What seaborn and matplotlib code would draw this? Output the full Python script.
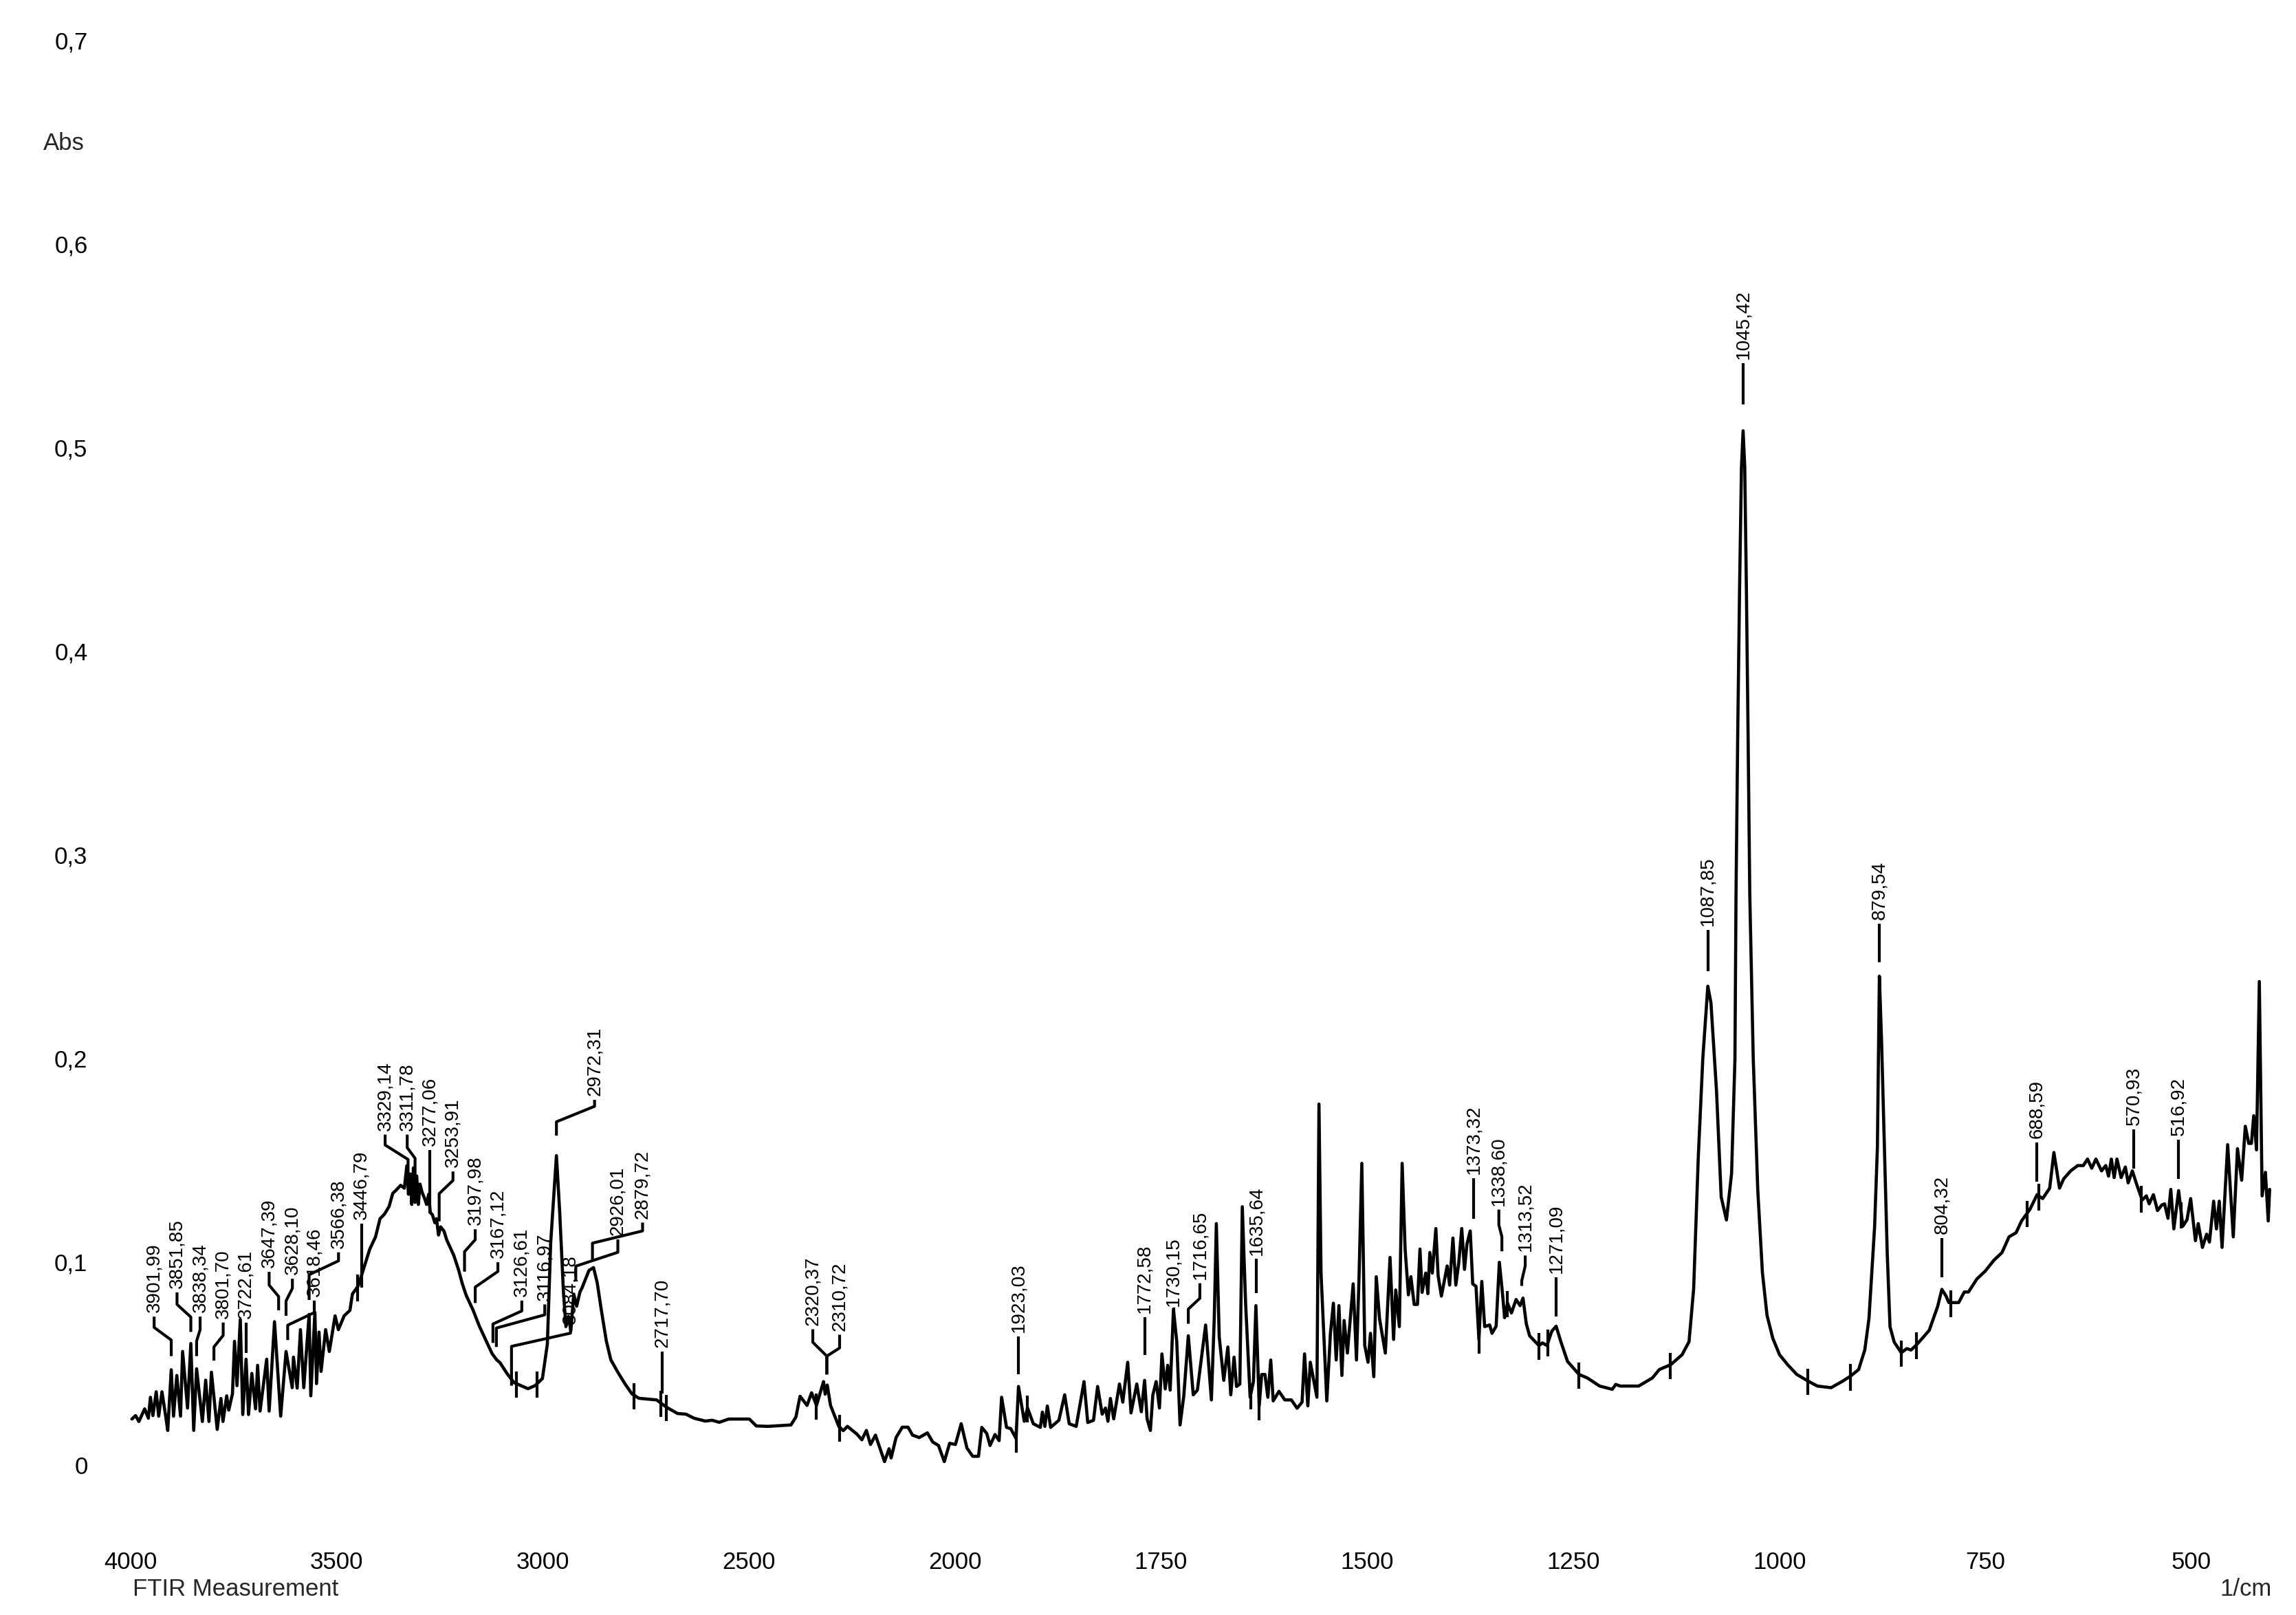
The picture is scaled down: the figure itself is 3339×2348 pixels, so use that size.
import numpy as np
import pandas as pd
import seaborn as sns
import matplotlib
matplotlib.use("Agg")
import matplotlib.pyplot as plt

# spectrum (1/cm, Abs)
wavenumber = [
    3997, 3988, 3980, 3966, 3957, 3952, 3946, 3938, 3932, 3924, 3915, 3910,
    3901.5, 3896, 3888, 3879, 3874, 3862, 3854, 3847, 3840, 3826, 3818, 3810,
    3804, 3790, 3781, 3776, 3767, 3762, 3753, 3748, 3742, 3734, 3728, 3720,
    3714, 3706, 3697, 3692, 3686, 3670, 3664, 3651, 3636, 3623, 3608, 3605,
    3596, 3588, 3580, 3567, 3563, 3553, 3549, 3543, 3538, 3527, 3518, 3504,
    3496, 3482, 3468, 3462, 3448, 3437, 3420, 3406, 3395, 3384, 3373, 3364,
    3356, 3345, 3336, 3330, 3326, 3322, 3318, 3314, 3310, 3306, 3302, 3298,
    3293, 3287, 3282, 3277, 3273, 3268, 3262, 3258, 3253, 3248, 3240, 3233,
    3216, 3204, 3196, 3186, 3169, 3154, 3137, 3123, 3112, 3104, 3087, 3070,
    3053, 3036, 3019, 3001, 2989, 2981, 2967, 2959, 2950, 2944, 2938, 2932,
    2925, 2918, 2910, 2905, 2888, 2877, 2868, 2858, 2846, 2835, 2818, 2801,
    2784, 2767, 2724, 2700, 2673, 2653, 2633, 2606, 2589, 2572, 2549, 2499,
    2482, 2454, 2398, 2386, 2376, 2359, 2348, 2336, 2319, 2315, 2310, 2302,
    2282, 2271, 2261, 2238, 2226, 2215, 2205, 2193, 2171, 2160, 2155, 2143,
    2128, 2114, 2103, 2087, 2067, 2054, 2040, 2026, 2013, 1999.5, 1992.5, 1985.5,
    1978.5, 1971.5, 1967.5, 1961.5, 1957.5, 1951.5, 1946.5, 1943.5, 1937.5, 1932.5,
    1926, 1923, 1916, 1912, 1905, 1896.5, 1894, 1891, 1888, 1884, 1874, 1867,
    1861.5, 1853, 1843.5, 1839, 1832, 1827, 1821.5, 1817.5, 1814.5, 1811.5, 1807.5,
    1800.5, 1796.5, 1790.5, 1786.5, 1779.5, 1774, 1770, 1767, 1763, 1760, 1756,
    1752, 1749, 1745, 1742, 1739, 1735, 1731, 1727, 1722.5, 1717, 1711, 1706,
    1696, 1689, 1685.5, 1683, 1679.5, 1674, 1669, 1665.5, 1661.5, 1658.5, 1654.5,
    1651.5, 1647.5, 1642, 1638, 1635, 1631, 1628, 1624, 1620.5, 1617, 1614,
    1607, 1600, 1592, 1585, 1579, 1576, 1572, 1569, 1561, 1558.5, 1556, 1549,
    1544.6, 1541, 1537.6, 1534.3, 1530.7, 1528, 1524, 1517, 1513, 1510, 1506.5,
    1503, 1499, 1496, 1492, 1489, 1485, 1478, 1472.3, 1468, 1465.4, 1461, 1457.6,
    1454, 1450, 1447, 1443, 1439, 1436, 1433.4, 1429, 1426.4, 1424, 1421, 1416.7,
    1414, 1410, 1403, 1400, 1396, 1392.5, 1389, 1385.3, 1382, 1379, 1375, 1372,
    1368, 1364.5, 1361, 1357.5, 1351.4, 1348.6, 1343.6, 1339.7, 1336, 1333.3,
    1329.7, 1325, 1319.4, 1314.5, 1311, 1307, 1303, 1296, 1291.6, 1287.4, 1282,
    1276, 1270.8, 1265, 1257, 1243, 1233, 1218, 1202.7, 1198.5, 1193, 1170.7,
    1154, 1145.7, 1131.8, 1118, 1109.6, 1104, 1098.4, 1092.9, 1086.8, 1083,
    1076.2, 1070.6, 1064.2, 1058, 1053.9, 1052.6, 1050.5, 1048.3, 1046, 1044,
    1042, 1040, 1038, 1035.9, 1031.7, 1026.2, 1020.6, 1015, 1008, 999.8, 990,
    978.9, 965, 953.9, 937.2, 923.3, 913.6, 903.9, 896.4, 891.3, 884.5, 881.1,
    878.7, 876, 872.6, 869.2, 865.8, 860.7, 852.2, 845.4, 840.3, 833.5, 825,
    818.2, 813.1, 808, 802.9, 797.8, 794.4, 789.3, 782.5, 775.7, 770.6, 760.4,
    750.2, 740, 729.9, 721.4, 712.9, 706.1, 695.9, 687.4, 680.6, 672.1, 667,
    660.2, 655.1, 646.6, 638.1, 631.3, 626.2, 621.1, 616, 609.2, 604.1, 600.7,
    597.3, 593.9, 590.5, 585.4, 580.3, 576.9, 571.8, 566.7, 559.9, 554.8, 551.4,
    546.3, 541.3, 536.2, 532.7, 528.6, 525.2, 521.5, 515.7, 510.6, 505.5, 501.1,
    495.3, 491.9, 486.8, 481.7, 478.3, 473.2, 469.8, 466.4, 463, 456.2, 449.4,
    444.3, 439.2, 434.8, 430.7, 427.4, 424.6, 421.2, 417.8, 414.4, 410.4, 407,
    405.3,
]
absorbance = [
    0.0226, 0.0243, 0.0214, 0.0276, 0.0230, 0.0333, 0.0243, 0.0360, 0.0240, 0.0360, 0.0240, 0.0170,
    0.0468, 0.0240, 0.0440, 0.0240, 0.0558, 0.0280, 0.0597, 0.0170, 0.0473, 0.0214, 0.0417, 0.0214,
    0.0456, 0.0175, 0.0327, 0.0214, 0.0340, 0.0270, 0.0350, 0.0608, 0.0390, 0.0715, 0.0248, 0.0520,
    0.0248, 0.0450, 0.0276, 0.0490, 0.0265, 0.0520, 0.0265, 0.0704, 0.0240, 0.0558, 0.0380, 0.0530,
    0.0378, 0.0665, 0.0380, 0.0740, 0.0340, 0.0750, 0.0400, 0.0653, 0.0460, 0.0665, 0.0558, 0.0733,
    0.0665, 0.0733, 0.0760, 0.0840, 0.0880, 0.0950, 0.1060, 0.1120, 0.1210, 0.1233, 0.1270, 0.1335,
    0.1350, 0.1374, 0.1360, 0.1470, 0.1330, 0.1430, 0.1280, 0.1460, 0.1290, 0.1420, 0.1280, 0.1380,
    0.1340, 0.1310, 0.1280, 0.1330, 0.1240, 0.1230, 0.1190, 0.1210, 0.1130, 0.1170, 0.1150, 0.1105,
    0.1030, 0.0956, 0.0895, 0.0834, 0.0760, 0.0682, 0.0608, 0.0547, 0.0517, 0.0503, 0.0450, 0.0405,
    0.0390, 0.0375, 0.0390, 0.0425, 0.0595, 0.1090, 0.1520, 0.1240, 0.0850, 0.0680, 0.0730, 0.0660,
    0.0840, 0.0780, 0.0850, 0.0870, 0.0956, 0.0970, 0.0895, 0.0760, 0.0610, 0.0517, 0.0456, 0.0400,
    0.0350, 0.0328, 0.0320, 0.0284, 0.0253, 0.0250, 0.0230, 0.0216, 0.0220, 0.0210, 0.0226, 0.0226,
    0.0192, 0.0190, 0.0197, 0.0236, 0.0338, 0.0293, 0.0355, 0.0293, 0.0410, 0.0348, 0.0393, 0.0293,
    0.0190, 0.0169, 0.0190, 0.0152, 0.0124, 0.0170, 0.0101, 0.0147, 0.0017, 0.0080, 0.0035, 0.0135,
    0.0186, 0.0186, 0.0147, 0.0135, 0.0158, 0.0113, 0.0096, 0.0017, 0.0107, 0.0101, 0.0203, 0.0083,
    0.0043, 0.0043, 0.0185, 0.0155, 0.0096, 0.0150, 0.0120, 0.0333, 0.0185, 0.0179,
    0.0131, 0.0386, 0.0215, 0.0280, 0.0203, 0.0185, 0.0260, 0.0190, 0.0290, 0.0185, 0.0220, 0.0345,
    0.0203, 0.0190, 0.0410, 0.0209, 0.0220, 0.0386, 0.0250, 0.0280, 0.0215, 0.0327, 0.0227,
    0.0398, 0.0309, 0.0505, 0.0256, 0.0398, 0.0262, 0.0416, 0.0227, 0.0170, 0.0345, 0.0410,
    0.0280, 0.0546, 0.0374, 0.0490, 0.0368, 0.0765, 0.0606, 0.0197, 0.0339, 0.0635, 0.0345, 0.0368,
    0.0688, 0.0320, 0.0724, 0.1186, 0.0630, 0.0416, 0.0580, 0.0345, 0.0530, 0.0386, 0.0398,
    0.1269, 0.0795, 0.0333, 0.0410, 0.0783, 0.0291, 0.0445, 0.0445, 0.0333, 0.0516, 0.0315,
    0.0362, 0.0320, 0.0320, 0.0279, 0.0309, 0.0546, 0.0291, 0.0505, 0.0333, 0.1773, 0.0943, 0.0315,
    0.0647, 0.0795, 0.0516, 0.0783, 0.0440, 0.0710, 0.0550, 0.0890, 0.0516, 0.0908, 0.1482,
    0.0588, 0.0505, 0.0647, 0.0434, 0.0925, 0.0718, 0.0550, 0.1020, 0.0617, 0.0860, 0.0680, 0.1482,
    0.1061, 0.0836, 0.0925, 0.0789, 0.0789, 0.1061, 0.0848, 0.0943, 0.0842, 0.1044, 0.0943, 0.1162,
    0.0931, 0.0830, 0.0978, 0.0884, 0.1115, 0.0884, 0.0990, 0.1162, 0.0961, 0.1085, 0.1150, 0.0890,
    0.0878, 0.0617, 0.0902, 0.0680, 0.0688, 0.0647, 0.0682, 0.0996, 0.0848, 0.0724,
    0.0795, 0.0747, 0.0813, 0.0783, 0.0820, 0.0694, 0.0635, 0.0605, 0.0587, 0.0600, 0.0587,
    0.0658, 0.0682, 0.0605, 0.0509, 0.0445, 0.0428, 0.0388, 0.0372, 0.0396, 0.0388, 0.0388,
    0.0428, 0.0469, 0.0493, 0.0542, 0.0606, 0.0865, 0.1510, 0.1996, 0.2352, 0.2270,
    0.1834, 0.1317, 0.1204, 0.1431, 0.1996, 0.2800, 0.3600, 0.4300, 0.4900, 0.5080,
    0.4900, 0.4300, 0.3600, 0.2800, 0.1996, 0.1350, 0.0946, 0.0736, 0.0623, 0.0542, 0.0493,
    0.0445, 0.0412, 0.0388, 0.0380, 0.0412, 0.0437, 0.0469, 0.0565, 0.0720, 0.1170, 0.1560,
    0.2401, 0.2078, 0.1560, 0.1044, 0.0680, 0.0604, 0.0552, 0.0572, 0.0565, 0.0591, 0.0630,
    0.0662, 0.0720, 0.0779, 0.0863, 0.0830, 0.0798, 0.0798, 0.0798, 0.0850, 0.0850, 0.0914,
    0.0953, 0.1005, 0.1044, 0.1121, 0.1141, 0.1200, 0.1257, 0.1328, 0.1309, 0.1360, 0.1535,
    0.1360, 0.1406, 0.1445, 0.1471, 0.1471, 0.1503, 0.1458, 0.1503, 0.1445, 0.1471, 0.1419,
    0.1503, 0.1412, 0.1503, 0.1412, 0.1464, 0.1386, 0.1445, 0.1380, 0.1302, 0.1322, 0.1283,
    0.1328, 0.1250, 0.1277, 0.1283, 0.1212, 0.1354, 0.1160, 0.1348, 0.1173, 0.1205, 0.1309,
    0.1102, 0.1186, 0.1069, 0.1134, 0.1095, 0.1296, 0.1160, 0.1296, 0.1069, 0.1574, 0.1121,
    0.1554, 0.1399, 0.1664, 0.1580, 0.1580, 0.1716, 0.1548, 0.2375, 0.1322, 0.1438, 0.1199,
    0.1354,
]

# peak labels: text, peak position, text position, leader levels (None = straight leader)
peak_text = [
    "3901,99", "3851,85", "3838,34", "3801,70", "3722,61", "3647,39", "3628,10",
    "3618,46", "3566,38", "3446,79", "3329,14", "3311,78", "3277,06", "3253,91",
    "3197,98", "3167,12", "3126,61", "3116,97", "3084,18", "2972,31", "2926,01",
    "2879,72", "2717,70", "2320,37", "2310,72", "1923,03", "1772,58", "1730,15",
    "1716,65", "1635,64", "1373,32", "1338,60", "1313,52", "1271,09", "1087,85",
    "1045,42", "879,54", "804,32", "688,59", "570,93", "516,92",
]
peak_at = [
    3901.5, 3854, 3840, 3798, 3720, 3641, 3623, 3619, 3567, 3440, 3327, 3310, 3274,
    3251.5, 3190, 3164, 3121, 3112.7, 3076, 2967, 2920, 2879.6, 2710, 2311, 2311,
    1923, 1770, 1735, 1717, 1634.5, 1371, 1336.6, 1312.5, 1270.8, 1086.8, 1044,
    878.7, 802.9, 688, 570.1, 515.7,
]
text_at = [
    3943, 3887.5, 3831.5, 3775.5, 3720, 3664, 3607.6, 3554.5, 3495.7, 3440, 3382.6,
    3329, 3274, 3218, 3164, 3109, 3051, 2995.3, 2932.8, 2874.5, 2818, 2758, 2710,
    2345, 2280, 1923, 1770, 1735, 1703, 1634.5, 1371, 1340.3, 1308.3, 1270.8,
    1086.8, 1044, 878.7, 802.9, 688, 570.1, 515.7,
]
leader_low = [
    0.0535, 0.0654, 0.0535, 0.0513, 0.0552, 0.0760, 0.0733, 0.0614, 0.0811, 0.0870,
    0.1404, 0.1400, 0.1236, 0.1197, 0.0950, 0.0796, 0.0600, 0.0580, 0.0390, 0.1618,
    0.0902, 0.1010, 0.0352, 0.0445, 0.0445, 0.0445, 0.0540, 0.0775, 0.0694, 0.0843,
    0.1210, 0.1050, 0.0880, 0.0730, 0.2424, 0.5209, 0.2470, 0.0921, 0.1393, 0.1457,
    0.1406,
]
kink_low = [
    0.0614, 0.0727, 0.0609, 0.0580, None, 0.0828, 0.0806, 0.0687, 0.0935, None,
    0.1501, 0.1507, None, 0.1333, 0.1048, 0.0874, 0.0693, 0.0673, 0.0583, 0.1686,
    0.0977, 0.1090, None, 0.0535, 0.0535, None, None, None, 0.0766, None,
    None, 0.1121, 0.0906, None, None, None, None, None, None, None, None,
]
kink_high = [
    0.0676, 0.0789, 0.0665, 0.0637, None, 0.0884, 0.0868, 0.0749, 0.1003, None,
    0.1572, 0.1559, None, 0.1398, 0.1107, 0.0951, 0.0757, 0.0738, 0.0648, 0.1762,
    0.1045, 0.1150, None, 0.0603, 0.0575, None, None, None, 0.0819, None,
    None, 0.1180, 0.0978, None, None, None, None, None, None, None, None,
]
text_base = [
    0.0749, 0.0868, 0.0749, 0.0720, 0.0720, 0.0969, 0.0935, 0.0828, 0.1065, 0.1206,
    0.1643, 0.1643, 0.1566, 0.1462, 0.1178, 0.1016, 0.0828, 0.0809, 0.0693, 0.1814,
    0.1128, 0.1211, 0.0578, 0.0687, 0.0660, 0.0653, 0.0748, 0.0780, 0.0913, 0.1032,
    0.1429, 0.1275, 0.1049, 0.0943, 0.2650, 0.5432, 0.2680, 0.1134, 0.1606, 0.1670,
    0.1619,
]

# small valley marks on the trace
valley_at = [
    3450, 3064, 3014, 2779, 2714, 2701, 2336, 2280, 1926, 1912, 1641.5, 1631,
    1364.5, 1329.7, 1291.6, 1280.5, 1243, 1132.4, 965.6, 914.1, 852.2, 833.5,
    791.7, 699.3, 685, 560.6, 512.3,
]

x_ticks = [4000, 3500, 3000, 2500, 2000, 1750, 1500, 1250, 1000, 750, 500]
y_ticks = [0, 0.1, 0.2, 0.3, 0.4, 0.5, 0.6, 0.7]
y_tick_labels = ["0", "0,1", "0,2", "0,3", "0,4", "0,5", "0,6", "0,7"]


def forward(w):
    w = np.asarray(w, dtype=float)
    return np.where(w >= 2000, w, 2 * w - 2000)


def inverse(u):
    u = np.asarray(u, dtype=float)
    return np.where(u >= 2000, u, (u + 2000) / 2)


sns.set_theme(style="white")
plt.rcParams['font.family'] = ['Liberation Sans', 'DejaVu Sans']

W, H = 3339, 2348
fig = plt.figure(figsize=(W / 100, H / 100), dpi=100)
ax = fig.add_axes([190 / W, 1 - 2130 / H, (3307 - 190) / W, (2130 - 58) / H])

spec = pd.DataFrame({'wavenumber': wavenumber, 'abs': absorbance})
sns.lineplot(data=spec, x='wavenumber', y='abs', sort=False, estimator=None,
             color='black', linewidth=3.3, ax=ax)
for ln in ax.get_lines():
    ln.set_clip_on(False)

ax.set_xscale('function', functions=(forward, inverse))
ax.set_xlim(4000, 400)
ax.set_ylim(0, 0.7)

lw = 3.0
for txt, pk, tx, lo, k1, k2, base in zip(peak_text, peak_at, text_at, leader_low,
                                         kink_low, kink_high, text_base):
    top = base - 0.002
    if k1 is None:
        xs, ys = [pk, pk], [lo, top]
    else:
        xs, ys = [pk, pk, tx, tx], [lo, k1, k2, top]
    ax.plot(xs, ys, color='black', lw=lw, clip_on=False, solid_capstyle='butt')
    ax.text(tx, base, txt, rotation=90, ha='center', va='bottom', fontsize=20,
            color='black')

ws = np.array(wavenumber)[::-1]
ab = np.array(absorbance)[::-1]
for v in valley_at:
    a = np.interp(v, ws, ab)
    ax.plot([v, v], [a - 0.007, a + 0.006], color='black', lw=lw, clip_on=False,
            solid_capstyle='butt')

ax.set_xticks(x_ticks)
ax.set_xticklabels([str(t) for t in x_ticks])
ax.set_yticks(y_ticks)
ax.set_yticklabels(y_tick_labels)
ax.tick_params(axis='both', length=0, labelsize=25, colors='black')
ax.tick_params(axis='x', pad=90)
ax.tick_params(axis='y', pad=45)
ax.set_xlabel('')
ax.set_ylabel('')
sns.despine(ax=ax, left=True, bottom=True)
ax.grid(False)

fig.text(63 / W, 1 - 208 / H, "Abs", ha='left', va='center', fontsize=25)
fig.text(193 / W, 1 - 2311 / H, "FTIR Measurement", ha='left', va='center', fontsize=25)
fig.text(3304 / W, 1 - 2311 / H, "1/cm", ha='right', va='center', fontsize=25)

fig.savefig("out.png", dpi=100, facecolor='white')
